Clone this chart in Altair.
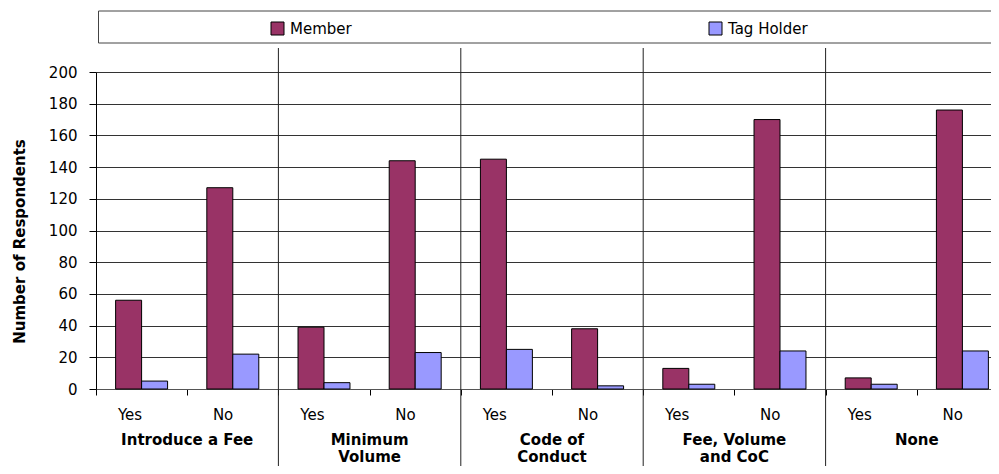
import altair as alt
import pandas as pd

groups = ["Introduce a Fee", "Minimum\nVolume", "Code of\nConduct", "Fee, Volume\nand CoC", "None"]
answers = ["Yes", "No"]
series = ["Member", "Tag Holder"]
colors = ["#993366", "#9999FF"]
member = [56, 127, 39, 144, 145, 38, 13, 170, 7, 176]
tag_holder = [5, 22, 4, 23, 25, 2, 3, 24, 3, 24]
y_ticks = list(range(0, 201, 20))
y_title = "Number of Respondents"

FONT = "DejaVu Sans"

keys = []
rows = []
for gi, g in enumerate(groups):
    for ai, a in enumerate(answers):
        k = f"{gi}|{a}"
        keys.append(k)
        idx = gi * 2 + ai
        rows.append({"key": k, "series": series[0], "value": member[idx]})
        rows.append({"key": k, "series": series[1], "value": tag_holder[idx]})
bars_df = pd.DataFrame(rows)

grp_df = pd.DataFrame({"key": [f"{gi}|Yes" for gi in range(len(groups))], "label": groups})
sep_df = grp_df.iloc[1:].copy()
box_df = pd.DataFrame({"a": [0]})

# bands run slightly past the right edge of the view, as in the cropped original
xscale = alt.Scale(range=[0, 912], paddingInner=0, paddingOuter=0)

bars = alt.Chart(bars_df).mark_bar(stroke="black", strokeWidth=1).encode(
    x=alt.X("key:N", sort=keys, scale=xscale,
            axis=alt.Axis(title=None, labelExpr="split(datum.label, '|')[1]", labelAngle=0,
                          tickBand="extent", tickSize=6, tickColor="black",
                          domainColor="#555", labelFont=FONT, labelFontSize=15,
                          labelColor="black", labelPadding=19, grid=False)),
    xOffset=alt.XOffset("series:N", sort=series,
                        scale=alt.Scale(paddingOuter=0.755, paddingInner=0)),
    y=alt.Y("value:Q", scale=alt.Scale(domain=[0, 200], nice=False),
            axis=alt.Axis(title=y_title, values=y_ticks, tickSize=7, tickColor="black",
                          domainColor="black", labelFont=FONT, labelFontSize=15,
                          labelColor="black", labelPadding=12, grid=True,
                          gridColor="#333", gridWidth=1,
                          titleFont=FONT, titleFontSize=15, titleFontWeight="bold",
                          titleColor="black", titleAngle=270, titleX=-77, titleY=169,
                          titleAlign="center", titleBaseline="middle")),
    color=alt.Color("series:N", sort=series, scale=alt.Scale(domain=series, range=colors),
                    legend=alt.Legend(title=None, orient="none", legendX=174, legendY=-51,
                                      direction="horizontal", symbolType="square",
                                      symbolSize=169, symbolStrokeColor="black",
                                      symbolStrokeWidth=1, labelFont=FONT, labelFontSize=15,
                                      labelColor="black", columnPadding=355, labelOffset=5)),
)

box = alt.Chart(box_df).mark_rect(fill="white", stroke="#444", strokeWidth=1).encode(
    x=alt.value(2.5), x2=alt.value(940), y=alt.value(-61), y2=alt.value(-29)
)

seps = alt.Chart(sep_df).mark_rule(color="#222", strokeWidth=1).encode(
    x=alt.X("key:N", sort=keys, scale=xscale, bandPosition=0),
    y=alt.value(-24), y2=alt.value(396)
)

glabels = alt.Chart(grp_df).mark_text(
    font=FONT, fontSize=15, fontWeight="bold", color="black", baseline="top",
    align="center", lineBreak="\n", lineHeight=17
).encode(
    x=alt.X("key:N", sort=keys, scale=xscale, bandPosition=1),
    y=alt.value(361), text="label:N"
)

chart = alt.layer(box, seps, bars, glabels).properties(
    width=895, height=317,
    padding={"left": 88, "top": 64, "right": 0, "bottom": 77},
    autosize=alt.AutoSizeParams(type="none"),
).configure_view(stroke=None).configure(font=FONT)

chart.save("out.html", embed_options={"renderer": "svg", "actions": False})
